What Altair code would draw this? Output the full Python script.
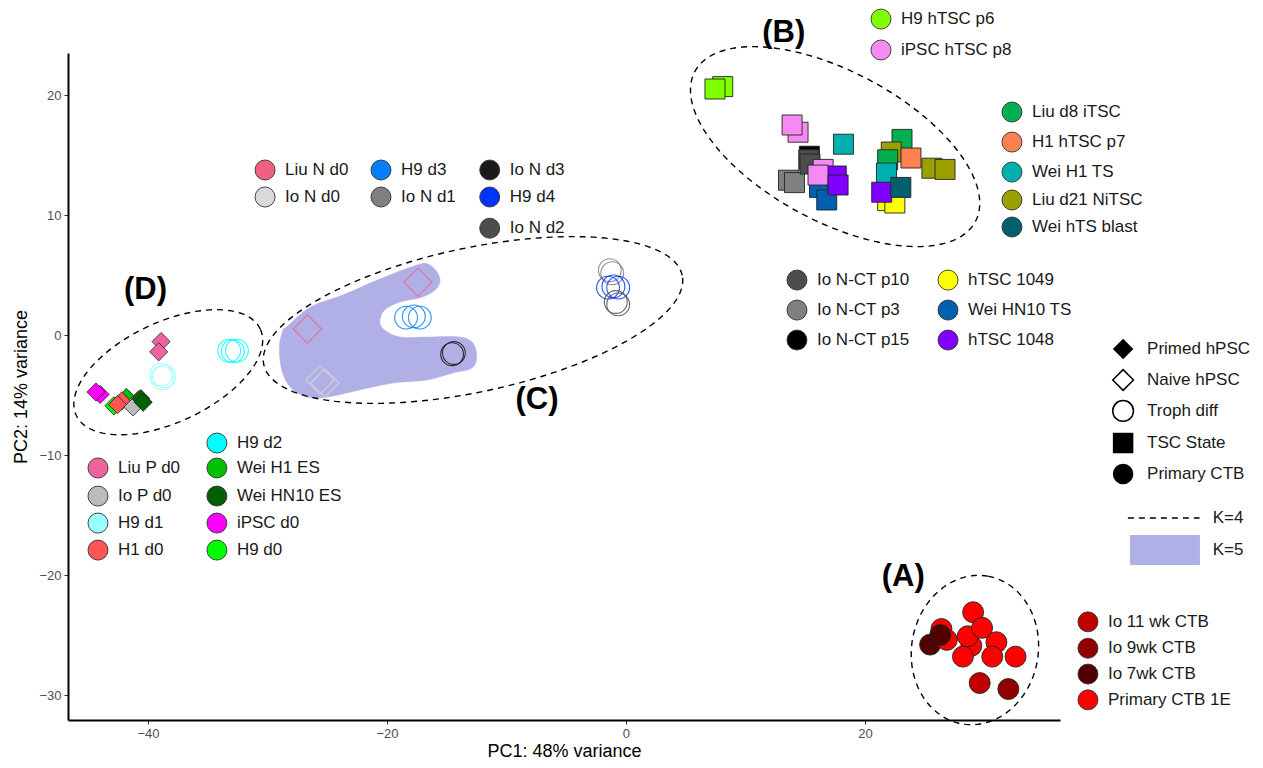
import altair as alt
import numpy as np
import pandas as pd

FONT = "Liberation Sans"
LAV = "#B0B0E6"

# ---------------- colour key: sample group -> colour ----------------
groups = ["Liu N d0", "Io N d0", "H9 d3", "Io N d1", "Io N d3", "H9 d4", "Io N d2",
          "H9 hTSC p6", "iPSC hTSC p8", "Liu d8 iTSC", "H1 hTSC p7", "Wei H1 TS",
          "Liu d21 NiTSC", "Wei hTS blast", "Io N-CT p10", "Io N-CT p3", "Io N-CT p15",
          "hTSC 1049", "Wei HN10 TS", "hTSC 1048", "Liu P d0", "Io P d0", "H9 d1",
          "H1 d0", "H9 d2", "Wei H1 ES", "Wei HN10 ES", "iPSC d0", "H9 d0",
          "Io 11 wk CTB", "Io 9wk CTB", "Io 7wk CTB", "Primary CTB 1E"]
group_colors = ["#F0607F", "#D9D9D9", "#0080FF", "#808080", "#1A1A1A", "#0033FF", "#4D4D4D",
                "#80FF00", "#F58BF2", "#00B050", "#FF8050", "#00B0B0",
                "#99A000", "#006070", "#4D4D4D", "#808080", "#000000",
                "#FFFF00", "#0060B0", "#8000FF", "#F0649E", "#BBBBBB", "#99FFFF",
                "#FF5555", "#00FFFF", "#00C000", "#006000", "#FF00FF", "#00FF00",
                "#C00000", "#900000", "#500000", "#FF0000"]

# ---------------- samples (PC1, PC2) ----------------
primed_group = ["iPSC d0", "iPSC d0", "Liu P d0", "Liu P d0", "H9 d0", "Wei H1 ES", "Wei H1 ES",
                "H1 d0", "H1 d0", "Io P d0", "Io P d0", "Wei HN10 ES", "Wei HN10 ES"]
primed_x = [-44.0, -44.35, -38.9, -39.1, -42.85, -41.6, -41.8, -42.2, -42.55, -40.8, -41.25, -40.6, -40.4]
primed_y = [-4.95, -4.75, -0.55, -1.4, -5.9, -5.4, -5.2, -5.5, -5.8, -5.4, -6.0, -5.3, -5.6]

naive_group = ["Liu N d0", "Liu N d0", "Io N d0", "Io N d0"]
naive_x = [-17.4, -26.65, -25.6, -25.2]
naive_y = [4.4, 0.5, -3.75, -4.0]

troph_group = ["H9 d1", "H9 d1", "H9 d1", "H9 d2", "H9 d2", "H9 d2",
               "H9 d3", "H9 d3", "H9 d3", "Io N d3", "Io N d3",
               "Io N d1", "Io N d1", "H9 d4", "H9 d4", "H9 d4", "Io N d2", "Io N d2"]
troph_x = [-38.9, -38.65, -38.8, -33.2, -32.9, -32.55,
           -18.4, -17.75, -17.25, -14.55, -14.4,
           -1.35, -1.15, -1.5, -1.05, -0.65, -0.85, -0.65]
troph_y = [-3.3, -3.45, -3.6, -1.3, -1.35, -1.3,
           1.45, 1.55, 1.45, -1.6, -1.5,
           5.4, 5.15, 3.95, 4.05, 3.95, 2.75, 2.55]

tsc_group = ["H9 hTSC p6", "H9 hTSC p6", "iPSC hTSC p8", "iPSC hTSC p8", "Wei H1 TS",
             "Io N-CT p3", "Io N-CT p3", "Io N-CT p15", "Io N-CT p10", "Io N-CT p10",
             "Wei HN10 TS", "iPSC hTSC p8", "hTSC 1048", "iPSC hTSC p8", "Wei HN10 TS", "hTSC 1048",
             "hTSC 1049", "hTSC 1049", "Liu d8 iTSC", "Liu d21 NiTSC", "Liu d8 iTSC", "H1 hTSC p7",
             "Liu d21 NiTSC", "Liu d21 NiTSC", "Wei H1 TS", "hTSC 1048", "Wei hTS blast"]
tsc_x = [8.1, 7.45, 14.4, 13.9, 18.2,
         13.6, 14.1, 15.35, 15.3, 15.4,
         16.2, 16.5, 17.6, 16.07, 16.8, 17.75,
         21.9, 22.5, 23.1, 22.2, 21.9, 23.85,
         25.6, 26.7, 21.8, 21.4, 23.0]
tsc_y = [20.7, 20.5, 16.9, 17.5, 15.9,
         12.9, 12.7, 14.9, 14.6, 14.25,
         12.3, 13.8, 13.25, 13.33, 11.25, 12.5,
         11.2, 11.0, 16.3, 15.25, 14.6, 14.75,
         13.9, 13.8, 13.5, 11.9, 12.3]

ctb_group = ["Io 7wk CTB", "Primary CTB 1E", "Primary CTB 1E", "Io 7wk CTB", "Primary CTB 1E",
             "Primary CTB 1E", "Primary CTB 1E", "Primary CTB 1E", "Primary CTB 1E",
             "Primary CTB 1E", "Primary CTB 1E", "Primary CTB 1E", "Io 11 wk CTB", "Io 9wk CTB"]
ctb_x = [25.45, 26.4, 26.85, 26.3, 29.05, 28.9, 28.2, 28.6, 29.8, 31.0, 30.65, 32.6, 29.6, 32.0]
ctb_y = [-25.8, -24.5, -25.4, -25.0, -23.1, -25.9, -26.8, -25.1, -24.4, -25.6, -26.8, -26.8, -29.0, -29.5]

# ---------------- K=4 clusters: ellipses (centre, semi-axes, angle) ----------------
ell_id = ["A", "B", "C", "D"]
ell_cx = [29.2, 17.5, -12.8, -38.3]
ell_cy = [-26.25, 15.7, 1.25, -3.1]
ell_a = [6.25, 13.3, 17.9, 8.5]
ell_b = [5.3, 6.25, 6.0, 4.17]
ell_angle = [80, -28, 12, 25]

# ---------------- K=5 cluster outline ----------------
blob_x = [-28.4, -26.4, -23.7, -20.8, -17.5, -16.4, -15.6, -15.8, -17.0, -18.9, -20.2, -20.6,
          -20.2, -18.9, -16.65, -13.9, -12.8, -12.5, -12.9, -14.5, -16.65, -19.5, -22.3, -25.0,
          -26.7, -28.1, -28.8, -29.0, -28.7]
blob_y = [0.67, 2.33, 3.33, 4.58, 5.83, 5.83, 4.83, 3.92, 3.17, 2.75, 2.08, 1.08,
          0.42, -0.17, -0.17, -0.17, -0.67, -1.83, -2.75, -3.17, -3.75, -4.0, -4.58, -5.17,
          -5.17, -4.33, -2.92, -1.0, 0.42]

# ---------------- colour legends (label, anchor in data units) ----------------
leg_label = ["Liu N d0", "Io N d0", "H9 d3", "Io N d1", "Io N d3", "H9 d4", "Io N d2",
             "H9 hTSC p6", "iPSC hTSC p8",
             "Liu d8 iTSC", "H1 hTSC p7", "Wei H1 TS", "Liu d21 NiTSC", "Wei hTS blast",
             "Io N-CT p10", "Io N-CT p3", "Io N-CT p15", "hTSC 1049", "Wei HN10 TS", "hTSC 1048",
             "Io 11 wk CTB", "Io 9wk CTB", "Io 7wk CTB", "Primary CTB 1E",
             "Liu P d0", "Io P d0", "H9 d1", "H1 d0",
             "H9 d2", "Wei H1 ES", "Wei HN10 ES", "iPSC d0", "H9 d0"]
leg_x = [-30.2, -30.2, -20.5, -20.5, -11.4, -11.4, -11.4,
         21.34, 21.34,
         32.3, 32.3, 32.3, 32.3, 32.3,
         14.31, 14.31, 14.31, 26.95, 26.95, 26.95,
         38.66, 38.66, 38.66, 38.66,
         -44.18, -44.18, -44.18, -44.18,
         -34.23, -34.23, -34.23, -34.23, -34.23]
leg_y = [13.75, 11.5, 13.75, 11.5, 13.75, 11.5, 8.9,
         26.33, 23.75,
         18.58, 16.08, 13.58, 11.25, 9.0,
         4.58, 2.08, -0.42, 4.58, 2.08, -0.42,
         -23.9, -26.1, -28.25, -30.4,
         -11.08, -13.42, -15.67, -17.92,
         -9.0, -11.08, -13.42, -15.67, -17.92]

# ---------------- shape legend ----------------
shape_label = ["Primed hPSC", "Naive hPSC", "Troph diff", "TSC State", "Primary CTB"]
shape_kind = ["diamond", "diamond", "circle", "square", "circle"]
shape_filled = [True, False, False, True, True]
shape_x = [41.6] * 5
shape_y = [-1.17, -3.75, -6.33, -9.0, -11.58]

kline_x = [42.0, 48.0]
kline_y = [-15.25, -15.25]
krect = dict(x=[42.18], x2=[48.03], y=[-16.67], y2=[-19.17])
ktext_label = ["K=4", "K=5"]
ktext_x = [49.1, 49.1]
ktext_y = [-15.25, -17.9]

cl_label = ["(A)", "(B)", "(C)", "(D)"]
cl_x = [23.2, 13.2, -7.45, -40.2]
cl_y = [-20.2, 25.2, -5.4, 3.75]

# ---------------- build tables ----------------
def pts(g, x, y):
    return pd.DataFrame({"group": g, "x": x, "y": y})

primed_df = pts(primed_group, primed_x, primed_y)
naive_df = pts(naive_group, naive_x, naive_y)
troph_df = pts(troph_group, troph_x, troph_y)
tsc_df = pts(tsc_group, tsc_x, tsc_y)
ctb_df = pts(ctb_group, ctb_x, ctb_y)

rows = []
t = np.linspace(0, 2 * np.pi, 121)
for k, cx, cy, a, b, ang in zip(ell_id, ell_cx, ell_cy, ell_a, ell_b, ell_angle):
    th = np.deg2rad(ang)
    ex = cx + a * np.cos(t) * np.cos(th) - b * np.sin(t) * np.sin(th)
    ey = cy + a * np.cos(t) * np.sin(th) + b * np.sin(t) * np.cos(th)
    for i, (px, py) in enumerate(zip(ex, ey)):
        rows.append({"id": k, "i": i, "x": px, "y": py})
ell_df = pd.DataFrame(rows)

blob_df = pd.DataFrame({"i": range(len(blob_x)), "x": blob_x, "y": blob_y})
leg_df = pd.DataFrame({"group": leg_label, "x": leg_x, "y": leg_y})
shape_df = pd.DataFrame({"label": shape_label, "kind": shape_kind, "filled": shape_filled,
                         "x": shape_x, "y": shape_y})
kline_df = pd.DataFrame({"i": [0, 1], "x": kline_x, "y": kline_y})
krect_df = pd.DataFrame(krect)
ktext_df = pd.DataFrame({"label": ktext_label, "x": ktext_x, "y": ktext_y})
cl_df = pd.DataFrame({"label": cl_label, "x": cl_x, "y": cl_y})

# ---------------- scales / axes ----------------
xs = alt.Scale(domain=[-46.69, 36.32], nice=False, zero=False)
ys = alt.Scale(domain=[-32.08, 23.5], nice=False, zero=False)
common_axis = dict(grid=False, domainColor="black", domainWidth=2, tickColor="#333333",
                   tickSize=4, tickWidth=1, labelColor="#4D4D4D", labelFontSize=13,
                   labelFont=FONT, titleFont=FONT, titleFontSize=18, titleColor="black",
                   titleFontWeight="normal", labelPadding=3)
xaxis = alt.Axis(values=[-40, -20, 0, 20], titlePadding=2, **common_axis)
yaxis = alt.Axis(values=[-30, -20, -10, 0, 10, 20], titlePadding=8, **common_axis)
X = alt.X("x:Q", scale=xs, axis=xaxis, title="PC1: 48% variance")
Y = alt.Y("y:Q", scale=ys, axis=yaxis, title="PC2: 14% variance")
cscale = alt.Scale(domain=groups, range=group_colors)
FILL = alt.Fill("group:N", scale=cscale, legend=None)
STROKE = alt.Stroke("group:N", scale=cscale, legend=None)

blob = alt.Chart(blob_df).mark_line(interpolate="cardinal-closed", fill=LAV, stroke=LAV,
                                    strokeWidth=0.5, filled=True).encode(x=X, y=Y, order="i:Q")
ellipses = alt.Chart(ell_df).mark_line(color="black", strokeDash=[6, 5], strokeWidth=1.4).encode(
    x=X, y=Y, detail="id:N", order="i:Q")

primed = alt.Chart(primed_df).mark_point(shape="diamond", filled=True, size=330, stroke="#222222",
                                         strokeWidth=0.8, opacity=1).encode(x=X, y=Y, fill=FILL)
naive = alt.Chart(naive_df).mark_point(shape="diamond", filled=False, size=800, strokeWidth=1.2,
                                       opacity=0.7).encode(x=X, y=Y, stroke=STROKE)
troph = alt.Chart(troph_df).mark_point(shape="circle", filled=False, size=520, strokeWidth=1.1,
                                       opacity=0.85).encode(x=X, y=Y, stroke=STROKE)
tsc = alt.Chart(tsc_df).mark_point(shape="square", filled=True, size=400, stroke="#222222",
                                   strokeWidth=0.9, opacity=1).encode(x=X, y=Y, fill=FILL)
ctb = alt.Chart(ctb_df).mark_point(shape="circle", filled=True, size=440, stroke="#222222",
                                   strokeWidth=0.9, opacity=1).encode(x=X, y=Y, fill=FILL)

leg_pts = alt.Chart(leg_df).mark_point(shape="circle", filled=True, size=400, stroke="#333333",
                                       strokeWidth=0.9, opacity=1).encode(x=X, y=Y, fill=FILL)
leg_txt = alt.Chart(leg_df).mark_text(align="left", baseline="middle", dx=20, font=FONT,
                                      fontSize=17, color="#1A1A1A").encode(x=X, y=Y, text="group:N")

shp_scale = alt.Scale(domain=shape_label, range=shape_kind)
shp_f = alt.Chart(shape_df).transform_filter("datum.filled").mark_point(
    filled=True, size=420, color="black", opacity=1).encode(
    x=X, y=Y, shape=alt.Shape("label:N", scale=shp_scale, legend=None))
shp_o = alt.Chart(shape_df).transform_filter("!datum.filled").mark_point(
    filled=False, size=430, color="black", strokeWidth=1.5, opacity=1).encode(
    x=X, y=Y, shape=alt.Shape("label:N", scale=shp_scale, legend=None))
shp_t = alt.Chart(shape_df).mark_text(align="left", baseline="middle", dx=24, font=FONT,
                                      fontSize=17, color="#1A1A1A").encode(x=X, y=Y, text="label:N")

kline = alt.Chart(kline_df).mark_line(color="black", strokeDash=[6, 5], strokeWidth=1.6).encode(
    x=X, y=Y, order="i:Q")
krect_m = alt.Chart(krect_df).mark_rect(color=LAV).encode(x=X, x2="x2:Q", y=Y, y2="y2:Q")
ktext = alt.Chart(ktext_df).mark_text(align="left", baseline="middle", font=FONT, fontSize=17,
                                      color="#1A1A1A").encode(x=X, y=Y, text="label:N")
clab = alt.Chart(cl_df).mark_text(align="center", baseline="middle", font=FONT, fontSize=31,
                                  fontWeight="bold", color="black").encode(x=X, y=Y, text="label:N")

chart = alt.layer(
    blob, ellipses, primed, naive, troph, tsc, ctb,
    leg_pts, leg_txt, shp_f, shp_o, shp_t, kline, krect_m, ktext, clab
).properties(
    width=992, height=667,
    autosize=alt.AutoSizeParams(type="none"),
    padding={"left": 60, "top": 45, "right": 195, "bottom": 40},
    background="white",
).configure_view(stroke=None)

chart.save("out.html", embed_options={"renderer": "svg", "actions": False})
